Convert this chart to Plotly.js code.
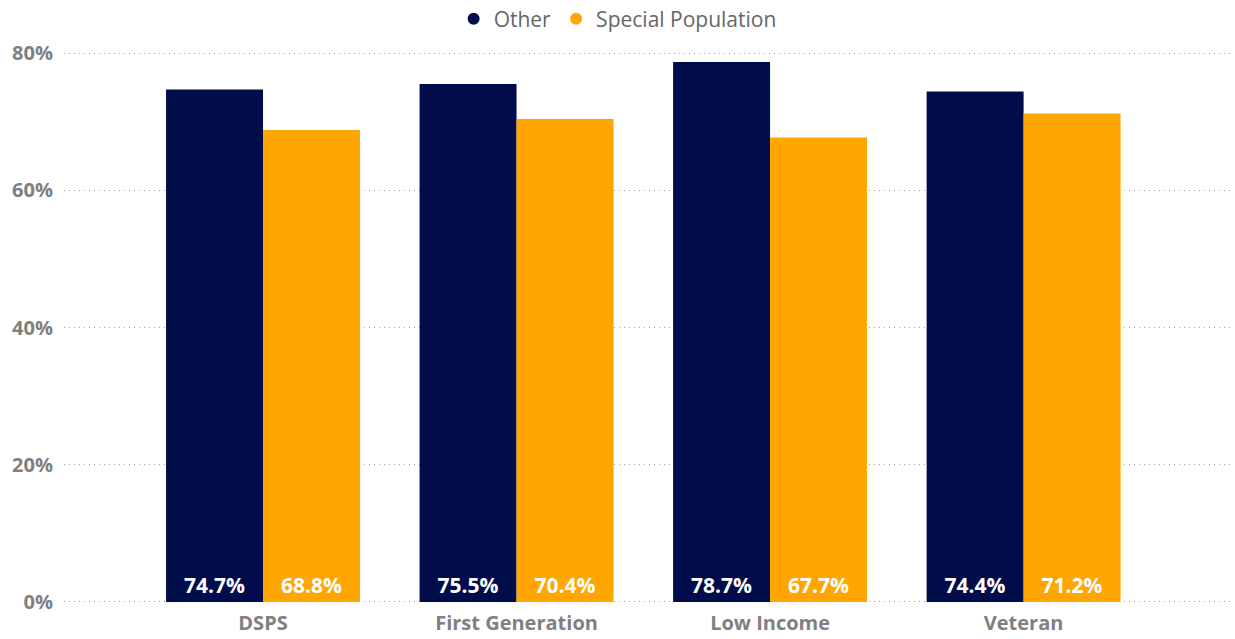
<!DOCTYPE html>
<html>
<head>
<meta charset="utf-8">
<script src="https://cdn.plot.ly/plotly-3.0.1.min.js"></script>
<style>html,body{margin:0;padding:0;background:#fff;}#chart{width:1235px;height:639px;}</style>
</head>
<body>
<div id="chart"></div>
<script>
const categories = ["DSPS", "First Generation", "Low Income", "Veteran"];
const otherValues = [0.747, 0.755, 0.787, 0.744];
const specialValues = [0.688, 0.704, 0.677, 0.712];
const seriesNames = ["Other", "Special Population"];
const seriesColors = ["#010C4A", "#FFA600"];
const yTickVals = [0, 0.2, 0.4, 0.6, 0.8];
const yTickText = ["0%", "20%", "40%", "60%", "80%"];

const fontFam = "'Open Sans', 'DejaVu Sans', sans-serif";

function barTrace(name, vals, color) {
  return {
    type: "bar", name: name, x: categories, y: vals,
    marker: {color: color},
    text: vals.map(v => (v * 100).toFixed(1) + "%"),
    textposition: "inside", insidetextanchor: "start",
    textangle: 0,
    textfont: {family: fontFam, size: 21, color: "#ffffff", weight: "bold"},
    showlegend: false, hoverinfo: "skip", cliponaxis: false
  };
}
function legendTrace(name, color) {
  return {
    type: "scatter", mode: "markers", name: name, x: [null], y: [null],
    marker: {color: color, size: 12, symbol: "circle"}, showlegend: true
  };
}

const data = [
  barTrace(seriesNames[0], otherValues, seriesColors[0]),
  barTrace(seriesNames[1], specialValues, seriesColors[1]),
  legendTrace(seriesNames[0], seriesColors[0]),
  legendTrace(seriesNames[1], seriesColors[1])
];

const layout = {
  width: 1235, height: 639,
  margin: {l: 64, r: 3, t: 52, b: 36, pad: 0, autoexpand: false},
  paper_bgcolor: "#ffffff", plot_bgcolor: "#ffffff",
  barmode: "group", bargap: 0.235, bargroupgap: 0,
  font: {family: fontFam, color: "#808080"},
  showlegend: true,
  legend: {
    orientation: "h", x: 0.474, xanchor: "center", y: 0.97, yanchor: "middle",
    xref: "paper", yref: "container", font: {size: 21, color: "#666666"},
    itemwidth: 30, itemsizing: "constant", traceorder: "normal"
  },
  xaxis: {
    type: "category", range: [-0.785, 3.822], automargin: false,
    showgrid: false, zeroline: false, showline: false, ticks: "",
    ticklabelstandoff: 6,
    tickfont: {size: 20, color: "#808080", weight: "bold"}, fixedrange: true
  },
  yaxis: {
    range: [-0.0015, 0.8015], tickvals: yTickVals, ticktext: yTickText, automargin: false,
    showgrid: true, gridcolor: "#a0a0a0", griddash: "1px,4px", gridwidth: 1,
    zeroline: false, showline: false, ticks: "", ticklabelstandoff: 10,
    tickfont: {size: 20, color: "#808080", weight: "bold"}, fixedrange: true
  }
};

Plotly.newPlot("chart", data, layout, {displayModeBar: false, staticPlot: true});
</script>
</body>
</html>
